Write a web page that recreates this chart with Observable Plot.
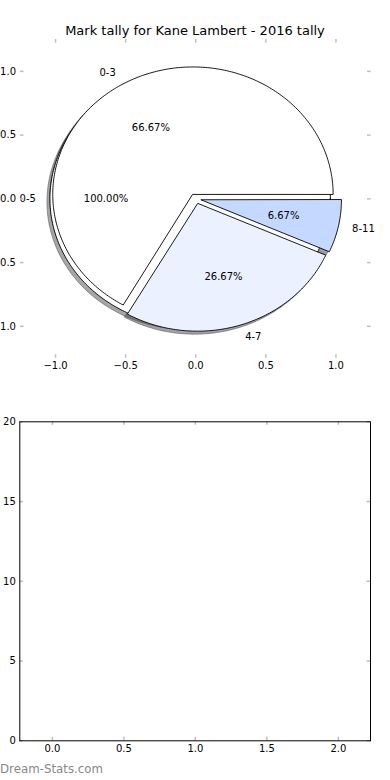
<!DOCTYPE html>
<html><head><meta charset="utf-8">
<script src="https://cdn.jsdelivr.net/npm/d3@7"></script>
<script src="https://cdn.jsdelivr.net/npm/@observablehq/plot@0.6"></script>
<style>
body{margin:0;background:#fff;width:390px;height:780px;overflow:hidden;font-family:"DejaVu Sans",sans-serif;}
#title{height:39px;box-sizing:border-box;padding-top:23.5px;font-size:13px;line-height:13px;text-align:center;color:#000;white-space:nowrap;}
#wm{height:20px;font-size:11.8px;line-height:19px;color:#888;white-space:nowrap;}
svg{display:block}
</style></head><body>
<div id="title">Mark tally for Kane Lambert - 2016 tally</div>
<div id="pie"></div>
<div id="bar"></div>
<div id="wm">Dream-Stats.com</div>
<script>
// ---- data ----
const outerLabels = ["0-5"];
const outerCounts = [15];
const innerLabels = ["0-3", "4-7", "8-11"];
const innerCounts = [10, 4, 1];
const outerColors = ["#ffffff"];
const innerColors = ["#ffffff", "#ebf1ff", "#c5d8ff"];
const pieTicks = [-1, -0.5, 0, 0.5, 1];
const barXTicks = [0, 0.5, 1, 1.5, 2];
const barYTicks = [0, 5, 10, 15, 20];
const explodeBy = 0.04;

// ---- pie geometry (matplotlib style: counter-clockwise from 3 o'clock) ----
function buildPie(labels, counts, colors) {
  const total = d3.sum(counts);
  let start = 0;
  return counts.map((c, i) => {
    const frac = c / total;
    const t1 = start * 360, t2 = (start + frac) * 360;
    start += frac;
    const mid = (t1 + t2) / 2 * Math.PI / 180;
    const cx = explodeBy * Math.cos(mid), cy = explodeBy * Math.sin(mid);
    const pts = [];
    const full = frac > 0.999999;
    if (!full) pts.push({x: cx, y: cy});
    const n = Math.max(2, Math.ceil(t2 - t1));
    for (let k = 0; k <= n; k++) {
      const a = (t1 + (t2 - t1) * k / n) * Math.PI / 180;
      pts.push({x: cx + Math.cos(a), y: cy + Math.sin(a)});
    }
    return {
      label: labels[i], pct: d3.format(".2f")(frac * 100) + "%", color: colors[i], pts,
      lx: cx + 1.1 * Math.cos(mid), ly: cy + 1.1 * Math.sin(mid),
      px: cx + 0.6 * Math.cos(mid), py: cy + 0.6 * Math.sin(mid)
    };
  });
}
const wedges = [...buildPie(outerLabels, outerCounts, outerColors), ...buildPie(innerLabels, innerCounts, innerColors)];
function shadowColor(c) { const r = d3.rgb(c); return d3.rgb(r.r * 0.3, r.g * 0.3, r.b * 0.3).formatHex(); }

const tickColor = "#bdbdbd";
const font = {fontFamily: "DejaVu Sans, sans-serif", fontSize: "10px", background: "white", color: "black", overflow: "visible"};

// ---- pie axes ----
const pW = 390, pH = 361, pmT = 0, pmB = 42.3, pmL = 20, pmR = 19.5;
const pFH = pH - pmT - pmB, pFW = pW - pmL - pmR;
const pieMarks = [];
wedges.forEach(w => pieMarks.push(Plot.line(w.pts, {
  x: "x", y: "y", curve: "linear-closed", fill: shadowColor(w.color), stroke: shadowColor(w.color),
  fillOpacity: 0.5, strokeOpacity: 0.5, strokeWidth: 1, dx: -3, dy: 3
})));
wedges.forEach(w => pieMarks.push(Plot.line(w.pts, {
  x: "x", y: "y", curve: "linear-closed", fill: w.color, stroke: "black", strokeWidth: 0.9
})));
pieMarks.push(
  Plot.text(wedges.filter(w => w.lx > 0), {x: "lx", y: "ly", text: "label", textAnchor: "start", fill: "black", fontSize: 10}),
  Plot.text(wedges.filter(w => w.lx <= 0), {x: "lx", y: "ly", text: "label", textAnchor: "end", fill: "black", fontSize: 10}),
  Plot.text(wedges, {x: "px", y: "py", text: "pct", fill: "black", fontSize: 10}),
  Plot.tickX(pieTicks, {x: d => d, stroke: tickColor, strokeWidth: 1.5, insetTop: pFH - 3.5}),
  Plot.tickX(pieTicks, {x: d => d, stroke: tickColor, strokeWidth: 1.5, insetBottom: pFH - 3.5}),
  Plot.tickY(pieTicks, {y: d => d, stroke: tickColor, strokeWidth: 1.5, insetRight: pFW - 3.5}),
  Plot.tickY(pieTicks, {y: d => d, stroke: tickColor, strokeWidth: 1.5, insetLeft: pFW - 3.5}),
  Plot.axisX({ticks: pieTicks, anchor: "bottom", tickSize: 0, tickPadding: 3.5, tickFormat: d3.format(".1f"), label: null, fontSize: 10}),
  Plot.axisY({ticks: pieTicks, anchor: "left", tickSize: 0, tickPadding: 4.5, tickFormat: d3.format(".1f"), label: null, fontSize: 10})
);
const pie = Plot.plot({
  width: pW, height: pH, marginTop: pmT, marginBottom: pmB, marginLeft: pmL, marginRight: pmR,
  style: font,
  x: {domain: [-1.25, 1.25], label: null},
  y: {domain: [-1.25, 1.25], label: null},
  marks: pieMarks
});
document.getElementById("pie").appendChild(pie);

// ---- empty bar axes ----
const bW = 390, bH = 360, bmT = 21.3, bmB = 19.7, bmL = 19.3, bmR = 20;
const bFH = bH - bmT - bmB, bFW = bW - bmL - bmR;
const bar = Plot.plot({
  width: bW, height: bH, marginTop: bmT, marginBottom: bmB, marginLeft: bmL, marginRight: bmR,
  style: font,
  x: {domain: [-0.228, 2.225], label: null},
  y: {domain: [0, 20], label: null},
  marks: [
    Plot.tickX(barXTicks, {x: d => d, stroke: tickColor, strokeWidth: 1.5, insetTop: bFH - 3.5}),
    Plot.tickX(barXTicks, {x: d => d, stroke: tickColor, strokeWidth: 1.5, insetBottom: bFH - 3.5}),
    Plot.tickY(barYTicks, {y: d => d, stroke: tickColor, strokeWidth: 1.5, insetRight: bFW - 3.5}),
    Plot.tickY(barYTicks, {y: d => d, stroke: tickColor, strokeWidth: 1.5, insetLeft: bFW - 3.5}),
    Plot.frame({stroke: "black", strokeWidth: 1}),
    Plot.axisX({ticks: barXTicks, anchor: "bottom", tickSize: 0, tickPadding: 3.7, tickFormat: d3.format(".1f"), label: null, fontSize: 10}),
    Plot.axisY({ticks: barYTicks, anchor: "left", tickSize: 0, tickPadding: 4, tickFormat: d3.format("d"), label: null, fontSize: 10})
  ]
});
document.getElementById("bar").appendChild(bar);
</script>
</body></html>
